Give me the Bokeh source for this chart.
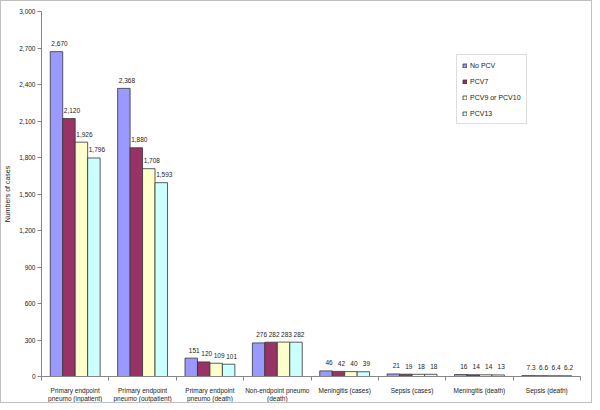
from bokeh.plotting import figure
from bokeh.models import (Range1d, FixedTicker, SingleIntervalTicker, NumeralTickFormatter,
                          ColumnDataSource, Legend, LegendItem)
from bokeh.embed import file_html
from bokeh.resources import INLINE
from bokeh.core.properties import value

categories = ["Primary endpoint\npneumo (inpatient)", "Primary endpoint\npneumo (outpatient)",
              "Primary endpoint\npneumo (death)", "Non-endpoint pneumo\n(death)",
              "Meningitis (cases)", "Sepsis (cases)", "Meningitis (death)", "Sepsis (death)"]
series_names = ["No PCV", "PCV7", "PCV9 or PCV10", "PCV13"]
no_pcv = [2670, 2368, 151, 276, 46, 21, 16, 7.3]
pcv7 = [2120, 1880, 120, 282, 42, 19, 14, 6.6]
pcv9_10 = [1926, 1708, 109, 283, 40, 18, 14, 6.4]
pcv13 = [1796, 1593, 101, 282, 39, 18, 13, 6.2]
y_ticks_interval = 300
colors = ["#9999FF", "#993366", "#FFFFCC", "#CCFFFF"]

FONT = "Liberation Sans"
TXT = "#222222"

p = figure(width=592, height=403, output_backend="svg", toolbar_location=None,
           x_range=Range1d(0, len(categories)), y_range=Range1d(0, 3000),
           min_border_left=38, min_border_right=13, min_border_top=10, min_border_bottom=25)
p.styles = {"border": "1px solid #c0c0c0", "box-sizing": "border-box"}
p.outline_line_color = None
p.xgrid.visible = False
p.ygrid.visible = False

def fmt(v):
    if v >= 1000:
        return f"{v:,.0f}"
    if float(v).is_integer():
        return str(int(v))
    return f"{v:.1f}"

bw = 0.185
start = 0.13
items = []
for k, (name, vals) in enumerate(zip(series_names, [no_pcv, pcv7, pcv9_10, pcv13])):
    xs = [i + start + bw * (k + 0.5) for i in range(len(categories))]
    src = ColumnDataSource(dict(x=xs, top=vals, lab=[fmt(v) for v in vals]))
    r = p.vbar(x="x", top="top", width=bw, source=src, fill_color=colors[k],
               line_color="#333333", line_width=0.8)
    p.text(x="x", y="top", text="lab", source=src, text_align="center",
           text_baseline="middle", y_offset=-8, x_offset=3, text_font=value(FONT),
           text_font_size="6.5px", text_color=TXT)
    items.append(LegendItem(label=name, renderers=[r]))

legend = Legend(items=items, location=(415, 252), orientation="vertical",
                glyph_width=5, glyph_height=5, label_height=10, spacing=6,
                padding=5, margin=0, label_standoff=3, label_width=10,
                label_text_font=FONT, label_text_font_size="7px", label_text_color=TXT,
                border_line_color="#bbbbbb", border_line_width=1,
                background_fill_color="white", background_fill_alpha=1)
p.add_layout(legend, "center")

# y axis
yax = p.yaxis[0]
yax.ticker = SingleIntervalTicker(interval=y_ticks_interval, num_minor_ticks=0)
yax.formatter = NumeralTickFormatter(format="0,0")
yax.axis_label = "Numbers of cases"
yax.axis_label_text_font = FONT
yax.axis_label_text_font_size = "7px"
yax.axis_label_text_font_style = "normal"
yax.axis_label_text_color = TXT
yax.axis_label_standoff = 5
yax.major_label_text_font = FONT
yax.major_label_text_font_size = "6.5px"
yax.major_label_text_color = TXT
yax.major_tick_out = 4
yax.major_tick_in = 0
yax.minor_tick_out = 0
yax.minor_tick_in = 0
yax.major_label_standoff = 2
yax.axis_line_color = "#868686"
yax.major_tick_line_color = "#868686"

# x axis
xax = p.xaxis[0]
centers = [i + 0.5 for i in range(len(categories))]
xax.ticker = FixedTicker(ticks=centers, minor_ticks=list(range(len(categories) + 1)))
xax.major_label_overrides = {c: lab for c, lab in zip(centers, categories)}
xax.major_tick_out = 0
xax.major_tick_in = 0
xax.minor_tick_out = 4
xax.minor_tick_in = 0
xax.major_label_standoff = 6
xax.major_label_text_font = FONT
xax.major_label_text_font_size = "6.5px"
xax.major_label_text_color = TXT
xax.axis_line_color = "#868686"
xax.minor_tick_line_color = "#868686"

open("out.html", "w").write(file_html(p, INLINE))
